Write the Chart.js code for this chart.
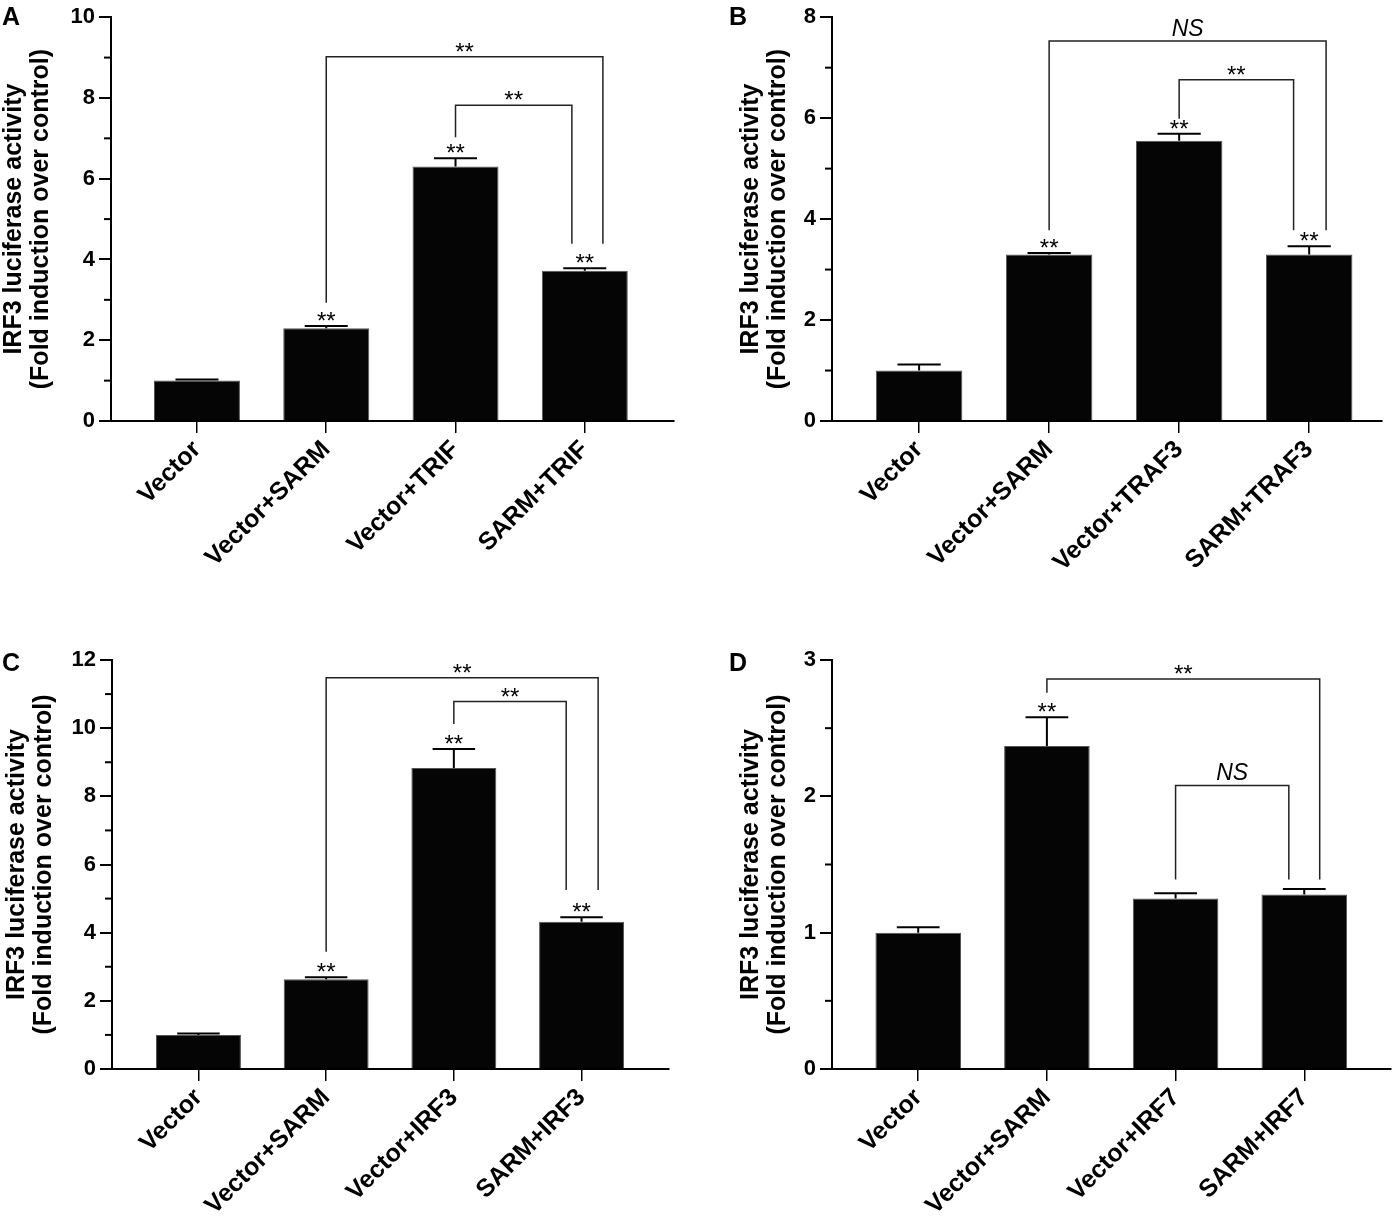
<!DOCTYPE html>
<html>
<head>
<meta charset="utf-8">
<script src="https://cdn.jsdelivr.net/npm/chart.js@4.4.1/dist/chart.umd.min.js"></script>
<style>
  body { margin: 0; background: #fff; width: 1397px; height: 1225px; position: relative; overflow: hidden; }
  .panel { position: absolute; }
  .letter { position: absolute; font: bold 25px 'Liberation Sans', Arial, sans-serif; line-height: 1; color: #000; }
</style>
</head>
<body>
<div class="panel" style="left:0;top:0;width:698px;height:612px"><canvas id="chartA"></canvas></div>
<div class="panel" style="left:700px;top:0;width:697px;height:612px"><canvas id="chartB"></canvas></div>
<div class="panel" style="left:0;top:640px;width:698px;height:585px"><canvas id="chartC"></canvas></div>
<div class="panel" style="left:700px;top:640px;width:697px;height:585px"><canvas id="chartD"></canvas></div>
<div class="letter" style="left:2px;top:4px">A</div>
<div class="letter" style="left:729px;top:4px">B</div>
<div class="letter" style="left:2px;top:650px">C</div>
<div class="letter" style="left:729px;top:650px">D</div>
<script>
// ---- data ----
var yTitle = ['IRF3 luciferase activity', '(Fold induction over control)'];

var labelsA = ['Vector', 'Vector+SARM', 'Vector+TRIF', 'SARM+TRIF'];
var valuesA = [1.0, 2.30, 6.30, 3.72];
var semA = [0.03, 0.05, 0.21, 0.06];
var starsA = ['', '**', '**', '**'];
var bracketsA = [
  { from: 1, to: 3.14, top: 9.02, legs: [2.93, 4.39], text: '**' },
  { from: 2, to: 2.9, top: 7.82, legs: [7.03, 4.39], text: '**' }
];

var labelsB = ['Vector', 'Vector+SARM', 'Vector+TRAF3', 'SARM+TRAF3'];
var valuesB = [1.0, 3.30, 5.55, 3.30];
var semB = [0.12, 0.03, 0.14, 0.16];
var starsB = ['', '**', '**', '**'];
var bracketsB = [
  { from: 1, to: 3.13, top: 7.53, legs: [3.78, 3.78], text: 'NS' },
  { from: 2, to: 2.88, top: 6.76, legs: [5.99, 3.78], text: '**' }
];

var labelsC = ['Vector', 'Vector+SARM', 'Vector+IRF3', 'SARM+IRF3'];
var valuesC = [1.0, 2.63, 8.83, 4.32];
var semC = [0.04, 0.06, 0.56, 0.13];
var starsC = ['', '**', '**', '**'];
var bracketsC = [
  { from: 1, to: 3.13, top: 11.48, legs: [3.44, 5.25], text: '**' },
  { from: 2, to: 2.88, top: 10.78, legs: [10.12, 5.25], text: '**' }
];

var labelsD = ['Vector', 'Vector+SARM', 'Vector+IRF7', 'SARM+IRF7'];
var valuesD = [1.0, 2.37, 1.25, 1.28];
var semD = [0.04, 0.21, 0.04, 0.04];
var starsD = ['', '**', '', ''];
var bracketsD = [
  { from: 1, to: 3.12, top: 2.86, legs: [2.76, 1.39], text: '**' },
  { from: 2, to: 2.88, top: 2.08, legs: [1.39, 1.39], text: 'NS' }
];

Chart.defaults.font.family = "'Liberation Sans', Arial, sans-serif";
Chart.defaults.color = '#000';

function makeChart(id, p) {
  // error bars, significance marks and minor y ticks
  var marks = {
    id: 'marks',
    afterDatasetsDraw: function (chart) {
      var ctx = chart.ctx, x = chart.scales.x, y = chart.scales.y;
      var meta = chart.getDatasetMeta(0);
      var fam = Chart.defaults.font.family;
      ctx.save();
      ctx.strokeStyle = '#000';
      ctx.fillStyle = '#000';
      ctx.textAlign = 'center';
      ctx.textBaseline = 'alphabetic';
      p.values.forEach(function (v, i) {
        var px = x.getPixelForValue(i);
        var top = y.getPixelForValue(v);
        var cap = y.getPixelForValue(v + p.sem[i]);
        var half = meta.data[i].width / 4;
        ctx.lineWidth = 2;
        ctx.beginPath();
        ctx.moveTo(px, top); ctx.lineTo(px, cap);
        ctx.moveTo(px - half, cap); ctx.lineTo(px + half, cap);
        ctx.stroke();
        if (p.stars[i]) {
          ctx.font = '24px ' + fam;
          ctx.fillText(p.stars[i], px, cap + 3);
        }
      });
      p.brackets.forEach(function (b) {
        var x1 = x.getPixelForValue(b.from), x2 = x.getPixelForValue(b.to);
        var yt = y.getPixelForValue(b.top);
        ctx.lineWidth = 1.5;
        ctx.strokeStyle = '#222';
        ctx.beginPath();
        ctx.moveTo(x1, y.getPixelForValue(b.legs[0]));
        ctx.lineTo(x1, yt);
        ctx.lineTo(x2, yt);
        ctx.lineTo(x2, y.getPixelForValue(b.legs[1]));
        ctx.stroke();
        if (b.text === 'NS') {
          ctx.font = 'italic 23px ' + fam;
          ctx.fillText(b.text, (x1 + x2) / 2, yt - 5);
        } else {
          ctx.font = '24px ' + fam;
          ctx.fillText(b.text, (x1 + x2) / 2, yt + 3);
        }
      });
      // minor ticks on the y axis
      ctx.strokeStyle = '#000';
      ctx.lineWidth = 2;
      var left = chart.chartArea.left;
      for (var v = p.minor; v < p.yMax; v += p.minor) {
        if (Math.abs(v / p.yStep - Math.round(v / p.yStep)) < 1e-6) continue;
        var py = y.getPixelForValue(v);
        ctx.beginPath();
        ctx.moveTo(left - 7, py); ctx.lineTo(left, py);
        ctx.stroke();
      }
      ctx.restore();
    }
  };

  return new Chart(document.getElementById(id), {
    type: 'bar',
    data: {
      datasets: [{
        data: p.values.map(function (v, i) { return { x: i, y: v }; }),
        backgroundColor: '#050505',
        borderColor: '#555',
        borderWidth: 1,
        barPercentage: 0.665,
        categoryPercentage: 1
      }]
    },
    options: {
      animation: false,
      responsive: true,
      maintainAspectRatio: false,
      layout: { padding: p.pad },
      plugins: { legend: { display: false }, tooltip: { enabled: false } },
      scales: {
        x: {
          type: 'linear',
          offset: false,
          min: p.xMin,
          max: p.xMax,
          afterBuildTicks: function (s) { s.ticks = p.labels.map(function (_, i) { return { value: i }; }); },
          afterFit: function (s) { s.height = p.xHeight; },
          ticks: {
            autoSkip: false,
            minRotation: 45,
            maxRotation: 45,
            padding: 2,
            color: '#000',
            font: { size: 25, weight: 'bold' },
            callback: function (v, i) { return p.labels[i]; }
          },
          grid: { offset: false, drawOnChartArea: false, tickLength: 12, color: '#000', lineWidth: 1.5 },
          border: { color: '#000', width: 2 }
        },
        y: {
          min: 0,
          max: p.yMax,
          afterFit: function (s) { s.width = p.yWidth; },
          ticks: { stepSize: p.yStep, padding: 4, color: '#000', font: { size: 22, weight: 'bold' } },
          grid: { drawOnChartArea: false, tickLength: 12, color: '#000', lineWidth: 2 },
          border: { color: '#000', width: 2 },
          title: {
            display: true,
            text: yTitle,
            color: '#000',
            padding: 0,
            font: { size: 25, weight: 'bold', lineHeight: 1.1 }
          }
        }
      }
    },
    plugins: [marks]
  });
}

makeChart('chartA', {
  labels: labelsA, values: valuesA, sem: semA, stars: starsA, brackets: bracketsA,
  yMax: 10, yStep: 2, minor: 1, xMin: -0.665, xMax: 3.69,
  pad: { left: 0, top: 13, right: 24, bottom: 0 }, yWidth: 111, xHeight: 191
});
makeChart('chartB', {
  labels: labelsB, values: valuesB, sem: semB, stars: starsB, brackets: bracketsB,
  yMax: 8, yStep: 2, minor: 1, xMin: -0.67, xMax: 3.56,
  pad: { left: 37, top: 11, right: 15, bottom: 0 }, yWidth: 95, xHeight: 191
});
makeChart('chartC', {
  labels: labelsC, values: valuesC, sem: semC, stars: starsC, brackets: bracketsC,
  yMax: 12, yStep: 2, minor: 1, xMin: -0.677, xMax: 3.685,
  pad: { left: 3, top: 20, right: 29, bottom: 0 }, yWidth: 109, xHeight: 156
});
makeChart('chartD', {
  labels: labelsD, values: valuesD, sem: semD, stars: starsD, brackets: bracketsD,
  yMax: 3, yStep: 1, minor: 0.5, xMin: -0.67, xMax: 3.674,
  pad: { left: 37, top: 20, right: 6, bottom: 0 }, yWidth: 95, xHeight: 156
});
</script>
</body>
</html>
